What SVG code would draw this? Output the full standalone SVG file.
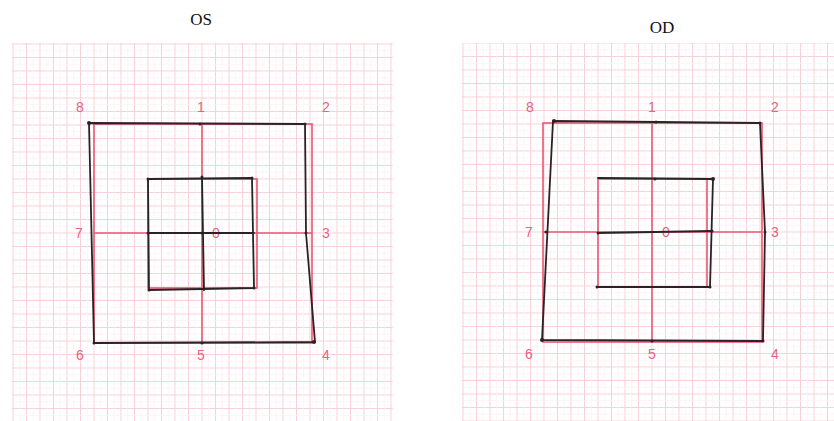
<svg xmlns="http://www.w3.org/2000/svg" width="834" height="421" viewBox="0 0 834 421">
<defs>
<pattern id="gridL" patternUnits="userSpaceOnUse" x="201.5" y="232.5" width="13.5" height="13.5">
<path d="M0.5 0V13.5M0 0.5H13.5" stroke="#f7d0d8" stroke-width="1" fill="none"/>
<path d="M7.25 0V13.5M0 7.25H13.5" stroke="#fcecf0" stroke-width="0.6" fill="none"/>
</pattern>
<pattern id="gridR" patternUnits="userSpaceOnUse" x="651.5" y="231.5" width="13.5" height="13.5">
<path d="M0.5 0V13.5M0 0.5H13.5" stroke="#f7d0d8" stroke-width="1" fill="none"/>
<path d="M7.25 0V13.5M0 7.25H13.5" stroke="#fcecf0" stroke-width="0.6" fill="none"/>
</pattern>
</defs>
<style>
.title{font-family:"Liberation Serif","Times New Roman",serif;font-size:17px;fill:#111;text-anchor:middle}
.lbl{font-family:"Liberation Sans",Arial,sans-serif;font-size:14px;fill:#e5647e;text-anchor:middle;dominant-baseline:central}
.red{stroke:#ec5774;stroke-width:1.6;fill:none}
.blk{stroke:#2b2226;stroke-width:1.8;fill:none;stroke-linejoin:round;stroke-linecap:round}
.dot{fill:#2b2226}
</style>
<rect width="834" height="421" fill="#ffffff"/>

<g id="os-chart">
<rect x="12" y="43" width="381" height="378" fill="url(#gridL)"/>
<text class="title" x="201" y="25">OS</text>
<g id="os-reference">
<rect class="red" x="94" y="124" width="218" height="219"/>
<rect class="red" x="148" y="179" width="109" height="109"/>
<path class="red" d="M202 124V343M94 233H312"/>
</g>
<g id="os-labels">
<text class="lbl" x="80" y="107">8</text>
<text class="lbl" x="201" y="107">1</text>
<text class="lbl" x="326" y="107">2</text>
<text class="lbl" x="79" y="233">7</text>
<text class="lbl" x="326" y="233">3</text>
<text class="lbl" x="80" y="355">6</text>
<text class="lbl" x="201" y="355">5</text>
<text class="lbl" x="326" y="355">4</text>
<text class="lbl" x="216" y="233">0</text>
</g>
<g id="os-plot">
<path class="blk" d="M89 123L305 124L306 233L315 342L94 343L89 123Z"/>
<path class="blk" d="M148 179L252 178L254 288L149 290Z"/>
<path class="blk" d="M202 177L204 290M148 233L254 233"/>
<circle class="dot" cx="89" cy="123" r="2"/>
<circle class="dot" cx="200" cy="124" r="1.5"/>
<circle class="dot" cx="305" cy="124" r="1.5"/>
<circle class="dot" cx="306" cy="233" r="1.5"/>
<circle class="dot" cx="314" cy="342" r="2"/>
<circle class="dot" cx="202" cy="343" r="1.5"/>
<circle class="dot" cx="94" cy="343" r="1.5"/>
<circle class="dot" cx="148" cy="179" r="1.5"/>
<circle class="dot" cx="252" cy="178" r="1.5"/>
<circle class="dot" cx="254" cy="288" r="1.5"/>
<circle class="dot" cx="149" cy="290" r="1.5"/>
<circle class="dot" cx="148" cy="233" r="1.5"/>
<circle class="dot" cx="202" cy="233" r="1.5"/>
<circle class="dot" cx="202" cy="177" r="1.5"/>
<circle class="dot" cx="204" cy="289" r="1.5"/>
</g>
</g>

<g id="od-chart">
<rect x="462" y="43" width="372" height="378" fill="url(#gridR)"/>
<text class="title" x="662" y="33">OD</text>
<g id="od-reference">
<rect class="red" x="543" y="123" width="219" height="219"/>
<rect class="red" x="598" y="179" width="109" height="108"/>
<path class="red" d="M652 123V342M543 232H762"/>
</g>
<g id="od-labels">
<text class="lbl" x="530" y="107">8</text>
<text class="lbl" x="652" y="107">1</text>
<text class="lbl" x="775" y="107">2</text>
<text class="lbl" x="529" y="232">7</text>
<text class="lbl" x="775" y="232">3</text>
<text class="lbl" x="529" y="354">6</text>
<text class="lbl" x="652" y="354">5</text>
<text class="lbl" x="775" y="354">4</text>
<text class="lbl" x="666" y="232">0</text>
</g>
<g id="od-plot">
<path class="blk" d="M553 121L760 123L765 232L763 341L542 340L553 121Z"/>
<path class="blk" d="M598 178L713 179L710 287L597 287"/>
<path class="blk" d="M598 233L712 231"/>
<circle class="dot" cx="554" cy="121" r="2"/>
<circle class="dot" cx="656" cy="122" r="1.5"/>
<circle class="dot" cx="760" cy="123" r="1.5"/>
<circle class="dot" cx="765" cy="232" r="1.5"/>
<circle class="dot" cx="763" cy="341" r="1.5"/>
<circle class="dot" cx="652" cy="341" r="1.5"/>
<circle class="dot" cx="542" cy="340" r="2"/>
<circle class="dot" cx="546" cy="232" r="1.5"/>
<circle class="dot" cx="713" cy="179" r="2"/>
<circle class="dot" cx="710" cy="287" r="1.5"/>
<circle class="dot" cx="597" cy="287" r="1.5"/>
<circle class="dot" cx="598" cy="233" r="1.5"/>
<circle class="dot" cx="712" cy="231" r="1.5"/>
<circle class="dot" cx="655" cy="179" r="1.5"/>
</g>
</g>
</svg>
